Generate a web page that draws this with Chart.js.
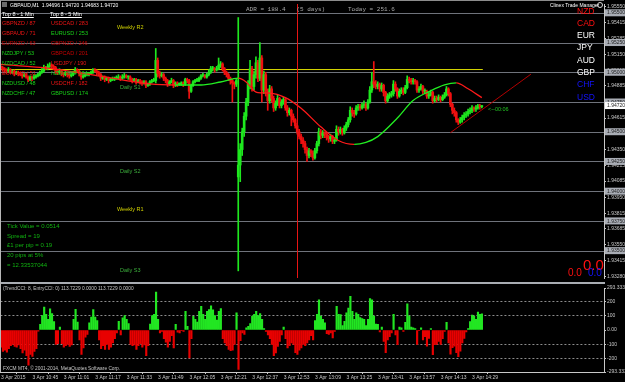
<!DOCTYPE html>
<html>
<head>
<meta charset="utf-8">
<script src="https://cdn.jsdelivr.net/npm/chart.js@4.4.1/dist/chart.umd.min.js"></script>
<style>
html, body { margin: 0; padding: 0; background: #000; }
#wrap { position: relative; width: 625px; height: 382px; overflow: hidden; background: #000; font-family: "Liberation Sans", Arial, sans-serif; }
canvas { position: absolute; left: 0; }
#priceChart { top: 0; }
#cciChart { top: 284px; }
#sep { position: absolute; left: 0; top: 282px; width: 605px; height: 2px; background: #a9adb3; }
#frame { position: absolute; left: 0; top: 0; width: 604px; height: 372px; border-left: 1px solid #b8b8b8; border-top: 1px solid #8c8c8c; box-sizing: border-box; pointer-events: none; }
.t { position: absolute; white-space: nowrap; line-height: 1; }
.r { color: #f01414; } .rd { color: #c80000; } .g { color: #18d418; }
.top8 div { font-size: 5.5px; }
</style>
</head>
<body>
<div id="wrap">
  <canvas id="priceChart" width="625" height="282"></canvas>
  <div id="sep"></div>
  <canvas id="cciChart" width="625" height="98"></canvas>
  <div id="frame"></div>

  <!-- header -->
  <div style="position:absolute;left:2px;top:2px;width:5px;height:5px;background:#6a6a6a;"></div>
  <div class="t" style="left:10px;top:2.5px;font-size:5px;color:#fff;">GBPAUD,M1&nbsp; 1.94696 1.94720 1.94683 1.94720</div>

  <!-- top 8 lists -->
  <div class="top8">
    <div class="t" style="left:2px;top:12.3px;color:#fff;text-decoration:underline;">Top 8 - 1 Min</div>
    <div class="t" style="left:50px;top:12.3px;color:#fff;text-decoration:underline;">Top 8 - 5 Min</div>
    <div class="t r" style="left:2px;top:21.3px;">GBPNZD / 87</div>
    <div class="t r" style="left:2px;top:31.3px;">GBPAUD / 71</div>
    <div class="t rd" style="left:2px;top:40.8px;">EURNZD / 63</div>
    <div class="t g" style="left:2px;top:50.8px;">NZDJPY / 53</div>
    <div class="t g" style="left:2px;top:60.8px;">NZDCAD / 52</div>
    <div class="t r" style="left:2px;top:70.8px;">EURAUD / 51</div>
    <div class="t g" style="left:2px;top:80.8px;">NZDUSD / 48</div>
    <div class="t g" style="left:2px;top:90.8px;">NZDCHF / 47</div>
    <div class="t r" style="left:51px;top:21.3px;">USDCAD / 283</div>
    <div class="t g" style="left:51px;top:31.3px;">EURUSD / 253</div>
    <div class="t rd" style="left:51px;top:40.8px;">GBPNZD / 246</div>
    <div class="t rd" style="left:51px;top:50.8px;">GBPCAD / 201</div>
    <div class="t r" style="left:51px;top:60.8px;">USDJPY / 190</div>
    <div class="t g" style="left:51px;top:70.8px;">NZDUSD / 184</div>
    <div class="t r" style="left:51px;top:80.8px;">USDCHF / 182</div>
    <div class="t g" style="left:51px;top:90.8px;">GBPUSD / 174</div>
  </div>

  <!-- pivot labels -->
  <div class="t" style="left:117px;top:24.5px;font-size:5.5px;color:#d2d200;">Weekly R2</div>
  <div class="t" style="left:120px;top:84.5px;font-size:5.5px;color:#3cae3c;">Daily S1</div>
  <div class="t" style="left:120px;top:168.5px;font-size:5.5px;color:#3cae3c;">Daily S2</div>
  <div class="t" style="left:117px;top:206.5px;font-size:5.5px;color:#d2d200;">Weekly R1</div>
  <div class="t" style="left:120px;top:267.5px;font-size:5.5px;color:#3cae3c;">Daily S3</div>

  <!-- ADR -->
  <div class="t" style="left:246px;top:7px;font-size:6px;color:#a8a8a8;font-family:'Liberation Mono',monospace;">ADR = 188.4&nbsp;&nbsp; (5 days)</div>
  <div class="t" style="left:348px;top:7px;font-size:6px;color:#a8a8a8;font-family:'Liberation Mono',monospace;">Today = 251.6</div>

  <!-- trade manager / currency strength -->
  <div class="t" style="left:550px;top:2.5px;font-size:5px;color:#fff;">Clinex Trade Manager</div>
  <div style="position:absolute;left:597px;top:2px;width:4px;height:4px;border:1px solid #ddd;border-radius:50%;"></div>
  <div class="t" style="left:577px;top:6.5px;font-size:8.5px;color:#ff1010;">NZD</div>
  <div class="t" style="left:577px;top:18.8px;font-size:8.5px;color:#ff1010;">CAD</div>
  <div class="t" style="left:577px;top:31px;font-size:8.5px;color:#fff;">EUR</div>
  <div class="t" style="left:577px;top:43.3px;font-size:8.5px;color:#fff;">JPY</div>
  <div class="t" style="left:577px;top:55.6px;font-size:8.5px;color:#fff;">AUD</div>
  <div class="t" style="left:577px;top:67.9px;font-size:8.5px;color:#fff;">GBP</div>
  <div class="t" style="left:577px;top:80.2px;font-size:8.5px;color:#1414ff;">CHF</div>
  <div class="t" style="left:577px;top:92.5px;font-size:8.5px;color:#1414ff;">USD</div>

  <!-- bar timer -->
  <div class="t" style="left:488px;top:107px;font-size:5.5px;color:#22c022;">&lt;--00:06</div>

  <!-- account info -->
  <div class="t g" style="left:7px;top:223px;font-size:6px;color:#10b010;">Tick Value = 0.0514</div>
  <div class="t g" style="left:7px;top:232.5px;font-size:6px;color:#10b010;">Spread = 19</div>
  <div class="t g" style="left:7px;top:242px;font-size:6px;color:#10b010;">£1 per pip = 0.19</div>
  <div class="t g" style="left:7px;top:252px;font-size:6px;color:#10b010;">20 pips at 5%</div>
  <div class="t g" style="left:7px;top:262px;font-size:6px;color:#10b010;">= 12.33537044</div>

  <div class="t" style="left:583px;top:257px;font-size:15px;color:#ff1010;">0.0</div>
  <div class="t" style="left:568px;top:268px;font-size:10px;color:#ff1010;">0.0</div>
  <div class="t" style="left:588px;top:268px;font-size:10px;color:#1414ff;">0.0</div>

  <!-- indicator window -->
  <div class="t" style="left:3px;top:286.5px;font-size:4.8px;color:#c8c8c8;">(TrendCCI: 8, EntryCCI: 0) 113.7229 0.0000 113.7229 0.0000</div>
  <div class="t" style="left:3px;top:366.5px;font-size:4.8px;color:#c8c8c8;">FXCM MT4, © 2001-2014, MetaQuotes Software Corp.</div>
</div>

<script>
// 价格以 1.93000 以上的点数(pips)保存
const PIP_BASE = 1.93;

// 每根 M1 K线 (bar 0 = 3 Apr 10:29)
const opens = [205,204,203,202,201,202,200,201,199,200,
  199,198,197,198,196,194,196,195,196,197,
  198,200,201,204,203,205,206,205,204,201,
  200,201,199,198,199,198,197,198,200,202,
  201,199,196,197,198,198,199,200,202,201,
  200,198,195,196,194,195,193,194,194,195,
  195,196,195,196,197,196,196,194,193,194,
  192,193,192,191,192,189,190,192,193,193,
  210,199,197,198,195,193,190,192,193,189,
  191,190,190,191,190,194,193,184,189,192,
  193,193,195,197,197,196,198,200,203,203,
  202,203,206,207,203,200,198,195,193,191,
  190,112,122,135,150,163,175,190,203,188,
  198,208,195,212,185,198,184,176,186,178,
  170,174,178,172,175,177,170,166,168,163,
  160,155,150,146,143,140,135,130,134,132,
  128,134,140,150,147,149,148,145,144,146,
  142,143,152,150,152,149,153,156,160,168,
  166,165,170,171,170,172,173,170,175,185,
  192,190,188,190,186,189,183,176,180,181,
  182,190,186,180,184,185,183,187,194,193,
  192,193,192,185,186,188,184,184,180,181,
  183,176,178,177,179,177,179,181,186,182,
  173,168,166,160,158,160,162,164,165,167,
  168,170,169,170,172,171];
const highs = [206,205,204,203,204,203,202,202,201,201,
  200,199,199,199,197,197,197,198,198,199,
  201,203,206,205,207,208,207,206,205,202,
  203,202,200,201,200,199,199,201,204,203,
  202,200,198,199,200,200,201,203,203,202,
  201,199,197,197,196,196,195,196,196,197,
  198,197,198,199,198,197,197,195,195,195,
  194,194,193,193,193,191,193,194,195,220,
  212,201,200,199,196,194,193,195,194,192,
  192,191,192,192,195,195,194,190,193,194,
  195,196,198,199,198,199,202,205,205,204,
  205,212,209,208,204,201,199,196,194,192,
  194,246,140,153,166,178,193,210,205,201,
  213,210,225,214,201,200,186,189,188,180,
  176,181,179,177,179,178,172,170,169,165,
  161,157,152,148,145,142,137,136,135,134,
  136,142,153,152,151,150,149,147,148,147,
  145,155,154,154,153,155,158,162,171,170,
  168,172,173,173,174,176,174,177,188,200,
  209,193,192,191,191,190,184,182,183,184,
  193,192,187,186,187,187,189,197,196,195,
  195,194,193,188,190,189,186,185,183,185,
  184,180,180,181,180,181,183,188,187,183,
  174,170,167,161,162,164,166,167,169,170,
  172,171,172,173,173,172];
const lows = [202,201,200,199,200,199,199,197,198,197,
  197,195,196,195,192,193,193,194,195,196,
  197,199,200,202,202,204,203,202,199,198,
  199,197,196,197,196,195,196,197,199,200,
  197,194,195,196,197,197,198,199,200,198,
  197,193,194,192,193,191,192,193,193,194,
  194,193,194,195,195,194,193,191,192,190,
  191,190,189,190,187,188,189,191,192,191,
  196,195,196,193,191,188,189,191,187,188,
  188,189,189,188,189,191,178,183,188,191,
  192,192,194,196,195,195,197,199,201,200,
  201,202,204,201,198,196,193,190,175,186,
  188,33,108,130,146,160,172,186,184,185,
  195,192,193,175,182,180,168,174,175,167,
  168,172,170,170,173,168,163,164,155,158,
  153,148,144,140,137,132,125,128,129,126,
  127,132,138,144,145,145,143,141,142,140,
  140,142,147,148,147,148,151,154,158,163,
  162,164,168,168,169,170,168,169,174,183,
  187,186,186,184,184,180,174,175,178,179,
  180,184,178,179,182,181,182,186,191,190,
  190,190,183,183,185,182,182,178,178,180,
  174,175,175,176,175,176,178,180,180,171,
  165,163,158,156,157,158,160,162,163,165,
  166,167,167,169,169,170];
const closes = [204,203,202,201,202,200,201,199,200,199,
  198,197,198,196,194,196,195,196,197,198,
  200,201,204,203,205,206,205,204,201,200,
  201,199,198,199,198,197,198,200,202,201,
  199,196,197,198,198,199,200,202,201,200,
  198,195,196,194,195,193,194,194,195,195,
  196,195,196,197,196,196,194,193,194,192,
  193,192,191,192,189,190,192,193,193,210,
  199,197,198,195,193,190,192,193,189,191,
  190,190,191,190,194,193,184,189,192,193,
  193,195,197,197,196,198,200,203,203,202,
  203,206,207,203,200,198,195,193,191,190,
  193,122,135,150,163,175,190,203,188,198,
  208,195,212,185,198,184,176,186,178,170,
  174,178,172,175,177,170,166,168,163,160,
  155,150,146,143,140,135,130,134,132,128,
  134,140,150,147,149,148,145,144,146,142,
  143,152,150,152,149,153,156,160,168,166,
  165,170,171,170,172,173,170,175,185,192,
  190,188,190,186,189,183,176,180,181,182,
  190,186,180,184,185,183,187,194,193,192,
  193,192,185,186,188,184,184,180,181,183,
  176,178,177,179,177,179,181,186,182,173,
  168,166,160,158,160,162,164,165,167,168,
  170,169,170,172,171,172];

// 均线 (读图取点)
const maBars = [0, 25, 51, 76, 89, 102, 112, 121, 125, 129, 131, 137, 145, 153, 163, 172, 180, 186, 192, 202, 210, 219, 226, 232, 238, 245];
const maValues = [206.6, 203.3, 196.7, 190.2, 189.3, 189.3, 191.8, 195.1, 191.8, 184.4, 182.8, 182.5, 178.7, 169.7, 154.1, 142.6, 139.3, 141, 145.9, 161.5, 176.2, 184.4, 189.3, 191, 186.1, 178.7];

// 水平线 / 趋势线 / 竖线
const roundLevels = [250, 225, 200, 175, 150, 125, 100, 75, 50];
const roundLevelLabels = ['1.95500', '1.95250', '1.95000', '1.94750', '1.94500', '1.94250', '1.94000', '1.93750', '1.93500'];
const lastPrice = 172;
const lastPriceLabel = '1.94720';
const pivotBars = [-1, 245.5];
const pivotValues = [202.3, 202.3];
const trendBars = [229, 270];
const trendValues = [149.2, 198.4];
const newsLineBar = 151;

// 坐标轴刻度
const priceTicks = [255.5, 241.5, 228.5, 215, 201.5, 188.5, 175, 161.5, 148.5, 135, 121.5, 108.5, 95, 81.5, 68.5, 55, 41.5, 28];
const priceTickLabels = ['1.95550', '1.95415', '1.95285', '1.95150', '1.95015', '1.94885', '1.94750', '1.94615', '1.94485', '1.94350', '1.94215', '1.94085', '1.93950', '1.93815', '1.93685', '1.93550', '1.93415', '1.93280'];
const timeTickBars = [0, 16, 32, 48, 64, 80, 96, 112, 128, 144, 160, 176, 192, 208, 224, 240];
const timeTickLabels = ['3 Apr 2015', '3 Apr 10:45', '3 Apr 11:01', '3 Apr 11:17', '3 Apr 11:33', '3 Apr 11:49', '3 Apr 12:05', '3 Apr 12:21', '3 Apr 12:37', '3 Apr 12:53', '3 Apr 13:09', '3 Apr 13:25', '3 Apr 13:41', '3 Apr 13:57', '3 Apr 14:13', '3 Apr 14:29'];

// CCI 柱状图
const cciValues = [-120,-150,-140,-155,-130,-110,-100,-115,-120,-105,
  -130,-160,-140,-180,-245,-170,-185,-150,-130,-8,
  40,100,160,110,75,147,115,58,-100,-95,
  20,-95,-120,-110,-100,-115,-105,75,145,55,
  -70,-170,-125,-50,-30,50,90,142,90,65,
  -70,-130,-110,-135,-100,-135,-120,-90,-60,-20,
  60,-35,85,100,75,45,-100,-110,-105,-135,
  -110,-95,-120,-105,-180,-110,42,100,110,265,
  75,-20,-10,-60,-85,-120,-80,-40,-125,40,
  -15,-20,-5,-10,130,25,-195,-60,95,75,
  55,130,165,110,75,130,142,168,140,100,
  70,130,150,-60,-90,-110,-135,-145,-140,-100,
  120,-275,-75,-20,-30,15,25,45,98,110,
  130,100,115,75,10,-10,-35,-60,-100,-180,
  -160,-115,-80,-35,20,-60,-125,-110,-90,-100,
  -158,-170,-140,-125,-100,-110,-90,-70,-40,-70,
  65,110,210,98,75,50,-25,-30,-20,-55,
  -10,165,110,108,30,60,120,153,235,131,
  75,120,110,87,80,75,31,75,220,210,
  98,42,40,-13,20,-80,-158,-69,-47,-20,
  110,-35,-102,20,15,-10,53,182,98,20,
  15,10,-100,-5,15,-69,-47,-113,-58,10,
  -173,-102,-100,-80,-100,-60,-10,53,-91,-169,
  -124,-113,-158,-187,-147,-91,-58,-13,10,58,
  105,98,75,125,110,113.7229];
const cciTicks = [-293.3333, -200, -100, 0, 100, 200, 293.3333];
const cciTickLabels = ['-293.3333', '-200', '-100', '0.00', '100', '200', '293.3333'];
const cciDotted = [-200, -100, 100, 200];

// 视图范围
const BAR_MIN = -0.3;
const BAR_MAX = 307.2;
const PRICE_MIN = 27.0;
const PRICE_MAX = 257.4;

const UP = '#1ee81e';
const DOWN = '#f01010';
const AXIS = '#c8c8c8';
const FONT = '"Liberation Sans", Arial, sans-serif';

// 整数位灰线、红色竖线、右侧价格框
const levelPlugin = {
    id: 'levels',
    beforeDatasetsDraw(chart) {
        const { ctx, chartArea: a, scales: { y } } = chart;
        ctx.save();
        ctx.strokeStyle = '#6f737b';
        ctx.lineWidth = 1;
        roundLevels.forEach(v => {
            const py = Math.round(y.getPixelForValue(v)) + 0.5;
            ctx.beginPath();
            ctx.moveTo(a.left, py);
            ctx.lineTo(a.right, py);
            ctx.stroke();
        });
        ctx.restore();
    },
    afterDatasetsDraw(chart) {
        const { ctx, chartArea: a, scales: { x } } = chart;
        const px = Math.round(x.getPixelForValue(newsLineBar)) + 0.5;
        ctx.save();
        ctx.strokeStyle = '#e81414';
        ctx.lineWidth = 1;
        ctx.beginPath();
        ctx.moveTo(px, a.top);
        ctx.lineTo(px, a.bottom);
        ctx.stroke();
        ctx.restore();
    },
    afterDraw(chart) {
        const { ctx, chartArea: a, scales: { y } } = chart;
        const box = (v, label, bg) => {
            const py = y.getPixelForValue(v);
            ctx.fillStyle = bg;
            ctx.fillRect(a.right + 1, py - 3.5, 625 - a.right, 7);
            ctx.fillStyle = '#1c1c1c';
            ctx.fillText(label, a.right + 3, py + 0.3);
        };
        ctx.save();
        ctx.font = '5px ' + FONT;
        ctx.textBaseline = 'middle';
        roundLevels.forEach((v, i) => box(v, roundLevelLabels[i], '#a9adb5'));
        box(lastPrice, lastPriceLabel, '#ffffff');
        ctx.restore();
    }
};

// 主图:K线 + 均线
function initPriceChart() {
    const ctx = document.getElementById('priceChart').getContext('2d');
    const colors = closes.map((c, i) => (c >= opens[i] ? UP : DOWN));
    new Chart(ctx, {
        type: 'bar',
        data: {
            datasets: [
                {
                    type: 'line',
                    data: maBars.map((b, i) => ({ x: b, y: maValues[i] })),
                    borderColor: DOWN,
                    borderWidth: 1.3,
                    pointRadius: 0,
                    cubicInterpolationMode: 'monotone',
                    segment: {
                        borderColor: s => (s.p1.parsed.y >= s.p0.parsed.y ? '#22ee22' : '#ff1a1a')
                    },
                    order: 0
                },
                {
                    type: 'line',
                    data: pivotBars.map((b, i) => ({ x: b, y: pivotValues[i] })),
                    borderColor: '#d6d600',
                    borderWidth: 1,
                    pointRadius: 0,
                    order: 4
                },
                {
                    type: 'line',
                    data: trendBars.map((b, i) => ({ x: b, y: trendValues[i] })),
                    borderColor: '#b40000',
                    borderWidth: 1,
                    pointRadius: 0,
                    order: 1
                },
                {
                    data: closes.map((c, i) => ({ x: i, y: [lows[i], highs[i]] })),
                    backgroundColor: colors,
                    barThickness: 1,
                    grouped: false,
                    order: 3
                },
                {
                    data: closes.map((c, i) => ({ x: i, y: [opens[i], c] })),
                    backgroundColor: colors,
                    barThickness: 2,
                    minBarLength: 1,
                    grouped: false,
                    order: 2
                }
            ]
        },
        options: {
            responsive: false,
            devicePixelRatio: 1,
            animation: false,
            events: [],
            layout: { padding: { top: 1, left: 0, right: 0, bottom: 0 } },
            plugins: { legend: { display: false }, tooltip: { enabled: false } },
            scales: {
                x: { type: 'linear', min: BAR_MIN, max: BAR_MAX, offset: false, display: false },
                y: {
                    position: 'right',
                    min: PRICE_MIN,
                    max: PRICE_MAX,
                    afterBuildTicks: s => { s.ticks = priceTicks.map(v => ({ value: v })); },
                    afterFit: s => { s.width = 21; },
                    ticks: {
                        color: AXIS,
                        padding: 1,
                        font: { size: 5, family: FONT },
                        callback: v => priceTickLabels[priceTicks.indexOf(v)]
                    },
                    grid: { drawOnChartArea: false, tickLength: 2, color: AXIS },
                    border: { color: AXIS }
                }
            }
        },
        plugins: [levelPlugin]
    });
}

// 副图:CCI 柱状图
function initCciChart() {
    const ctx = document.getElementById('cciChart').getContext('2d');
    new Chart(ctx, {
        type: 'bar',
        data: {
            datasets: [{
                data: cciValues.map((v, i) => ({ x: i, y: v })),
                backgroundColor: cciValues.map(v => (v >= 0 ? '#22e622' : '#e80000')),
                barThickness: 1.5,
                grouped: false
            }]
        },
        options: {
            responsive: false,
            devicePixelRatio: 1,
            animation: false,
            events: [],
            layout: { padding: 0 },
            plugins: { legend: { display: false }, tooltip: { enabled: false } },
            scales: {
                x: {
                    type: 'linear',
                    min: BAR_MIN,
                    max: BAR_MAX,
                    offset: false,
                    afterBuildTicks: s => { s.ticks = timeTickBars.map(v => ({ value: v })); },
                    afterFit: s => { s.height = 10; },
                    ticks: {
                        autoSkip: false,
                        maxRotation: 0,
                        align: 'start',
                        padding: 1,
                        color: AXIS,
                        font: { size: 5, family: FONT },
                        callback: v => timeTickLabels[timeTickBars.indexOf(v)]
                    },
                    grid: { drawOnChartArea: false, tickLength: 2, color: AXIS },
                    border: { color: AXIS }
                },
                y: {
                    position: 'right',
                    min: cciTicks[0],
                    max: cciTicks[cciTicks.length - 1],
                    afterBuildTicks: s => { s.ticks = cciTicks.map(v => ({ value: v })); },
                    afterFit: s => { s.width = 21; },
                    ticks: {
                        color: AXIS,
                        padding: 1,
                        font: { size: 5, family: FONT },
                        callback: v => cciTickLabels[cciTicks.indexOf(v)]
                    },
                    grid: {
                        tickLength: 2,
                        tickColor: AXIS,
                        color: c => (c.tick && cciDotted.includes(c.tick.value) ? '#8c8c8c' : 'transparent')
                    },
                    border: { color: AXIS, dash: [2, 2] }
                }
            }
        }
    });
}

document.addEventListener('DOMContentLoaded', () => {
    initPriceChart();
    initCciChart();
});
</script>
</body>
</html>
